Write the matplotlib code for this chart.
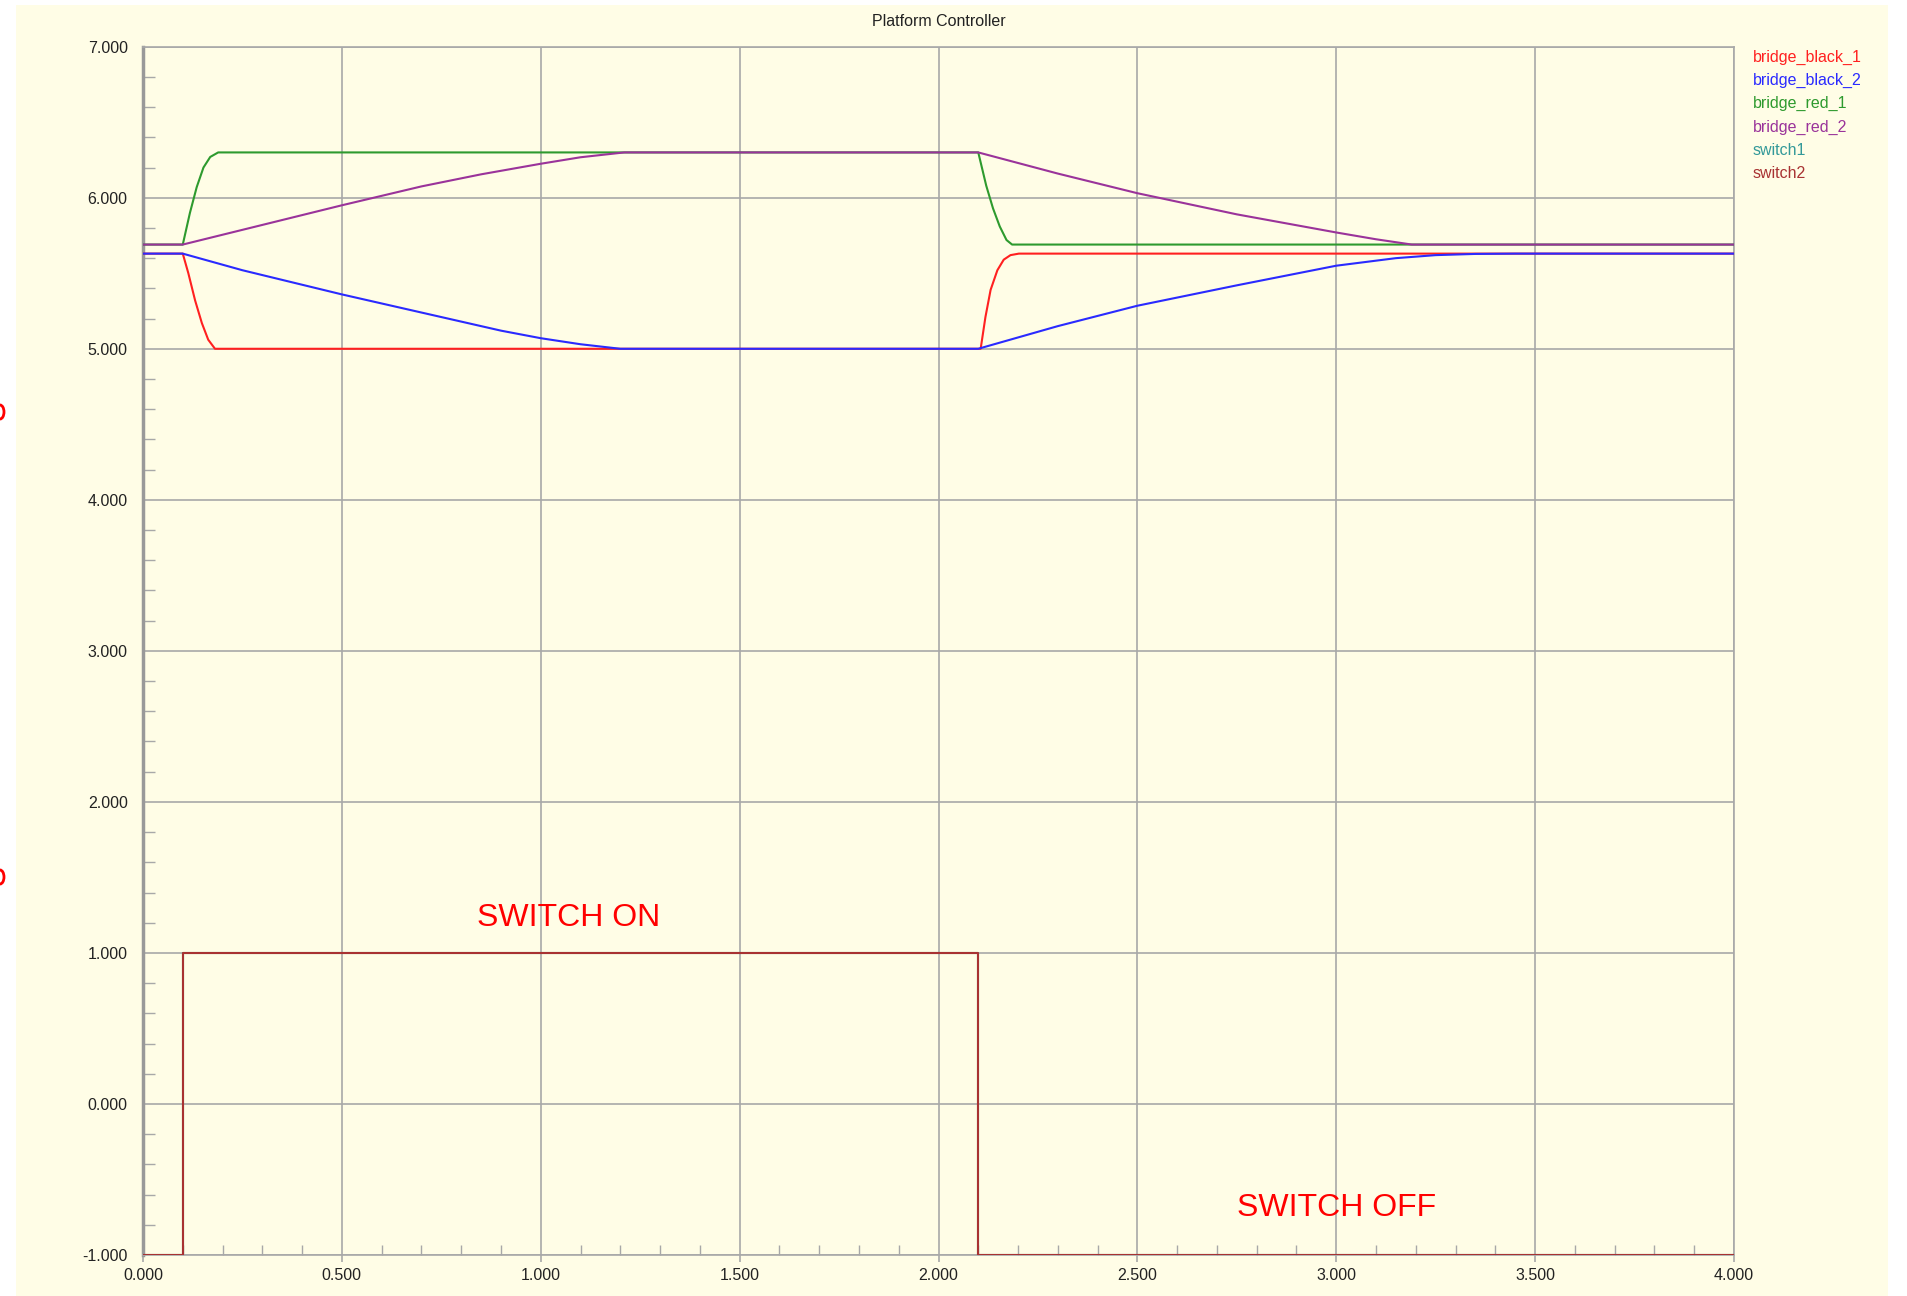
import matplotlib
matplotlib.use("Agg")
import matplotlib.pyplot as plt
from matplotlib.patches import Rectangle, Ellipse
from matplotlib.ticker import MultipleLocator, FormatStrFormatter

plt.rcParams['font.family'] = ['Liberation Sans', 'DejaVu Sans']

# values (time in s, value)
t_black_1 = [0.0, 0.1, 0.114, 0.131, 0.148, 0.164, 0.181, 2.1,
             2.106, 2.118, 2.131, 2.148, 2.164, 2.181, 2.202, 4.0]
v_black_1 = [5.63, 5.63, 5.50, 5.32, 5.17, 5.06, 5.0, 5.0,
             5.0, 5.21, 5.39, 5.52, 5.59, 5.62, 5.63, 5.63]

t_black_2 = [0.0, 0.1, 0.25, 0.5, 0.75, 0.9, 1.0, 1.1, 1.2, 2.1,
             2.3, 2.5, 2.75, 3.0, 3.15, 3.25, 3.35, 3.45, 4.0]
v_black_2 = [5.63, 5.63, 5.52, 5.36, 5.21, 5.12, 5.07, 5.03, 5.0, 5.0,
             5.15, 5.285, 5.42, 5.55, 5.60, 5.62, 5.628, 5.63, 5.63]

t_red_1 = [0.0, 0.1, 0.118, 0.135, 0.152, 0.169, 0.189, 2.1,
           2.12, 2.137, 2.154, 2.171, 2.185, 4.0]
v_red_1 = [5.69, 5.69, 5.90, 6.07, 6.20, 6.27, 6.30, 6.30,
           6.08, 5.93, 5.81, 5.72, 5.69, 5.69]

t_red_2 = [0.0, 0.1, 0.3, 0.5, 0.7, 0.85, 1.0, 1.1, 1.21, 2.1,
           2.3, 2.5, 2.75, 3.0, 3.1, 3.19, 4.0]
v_red_2 = [5.69, 5.69, 5.82, 5.95, 6.075, 6.155, 6.225, 6.268, 6.30, 6.30,
           6.16, 6.03, 5.89, 5.77, 5.725, 5.69, 5.69]

t_switch = [0.0, 0.1, 0.1, 2.1, 2.1, 4.0]
v_switch = [-1.0, -1.0, 1.0, 1.0, -1.0, -1.0]

names = ['bridge_black_1', 'bridge_black_2', 'bridge_red_1', 'bridge_red_2', 'switch1', 'switch2']
colors = ['#ff2020', '#2a2aff', '#2e9a2e', '#9a339a', '#339999', '#a83232']

bg = '#fffde6'
grid_c = '#a8a8a8'
W, H = 1907, 1296

fig = plt.figure(figsize=(W / 100, H / 100), dpi=100, facecolor='white')
fig.patches.append(Rectangle((16 / W, 0), (1888 - 16) / W, (H - 5) / H,
                             transform=fig.transFigure, facecolor=bg, edgecolor='none', zorder=-10))
# clipped marks at the left edge of the screenshot
for yp in [412, 877]:
    fig.patches.append(Ellipse((0, 1 - yp / H), 8 / W, 14 / H, transform=fig.transFigure,
                               facecolor='none', edgecolor='red', lw=2, zorder=-5))

ax = fig.add_axes([143 / W, 1 - 1255 / H, (1734 - 143) / W, (1255 - 46.7) / H])
ax.set_facecolor(bg)

series = [(t_black_1, v_black_1), (t_black_2, v_black_2), (t_red_1, v_red_1),
          (t_red_2, v_red_2), (t_switch, v_switch), (t_switch, v_switch)]
for (t, v), c, n in zip(series, colors, names):
    ax.plot(t, v, color=c, lw=1.5, label=n, zorder=3)

ax.set_xlim(0, 4)
ax.set_ylim(-1, 7)
ax.xaxis.set_major_locator(MultipleLocator(0.5))
ax.xaxis.set_minor_locator(MultipleLocator(0.1))
ax.yaxis.set_major_locator(MultipleLocator(1))
ax.yaxis.set_minor_locator(MultipleLocator(0.2))
ax.xaxis.set_major_formatter(FormatStrFormatter('%.3f'))
ax.yaxis.set_major_formatter(FormatStrFormatter('%.3f'))

ax.grid(True, which='major', color=grid_c, lw=1.2, zorder=1)
for s in ['top', 'right', 'bottom']:
    ax.spines[s].set_color(grid_c)
    ax.spines[s].set_linewidth(1.2)
ax.spines['left'].set_color('#999999')
ax.spines['left'].set_linewidth(2.5)

ax.tick_params(axis='y', which='major', length=0, pad=11, labelsize=11.5, labelcolor='#222222')
ax.tick_params(axis='y', which='minor', direction='in', length=8.6, width=1, color=grid_c)
ax.tick_params(axis='x', which='major', direction='out', length=5, width=1.2, color=grid_c,
               pad=4, labelsize=11.5, labelcolor='#222222')
ax.tick_params(axis='x', which='minor', direction='in', length=7, width=1, color=grid_c)

fig.text((143 + 1734) / 2 / W, 1 - 21 / H, 'Platform Controller', fontsize=11.5,
         color='#222222', ha='center', va='center')

ax.text(1.07, 1.23, 'SWITCH ON', color='red', fontsize=23, ha='center', va='center', zorder=4)
ax.text(3.0, -0.69, 'SWITCH OFF', color='red', fontsize=23, ha='center', va='center', zorder=4)

# legend as coloured labels to the right of the plot
for i, (n, c) in enumerate(zip(names, colors)):
    fig.text(1753 / W, 1 - (57 + 23.4 * i) / H, n, color=c, fontsize=11.5, ha='left', va='center')

fig.savefig('out.png', dpi=100, facecolor='white')
